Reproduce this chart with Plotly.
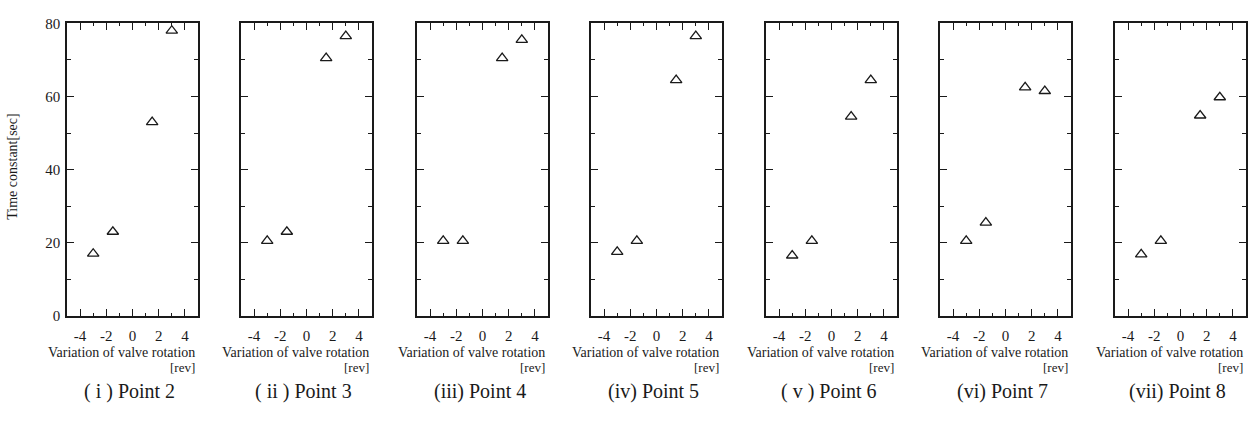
import plotly.graph_objects as go

# Valve rotation offsets shared by every measuring point [rev]
rotation = [-3, -1.5, 1.5, 3]

# Time constants [sec] measured at each point
point_names = ["( i ) Point 2", "( ii ) Point 3", "(iii) Point 4", "(iv) Point 5",
               "( v ) Point 6", "(vi) Point 7", "(vii) Point 8"]
point2 = [17, 23, 53, 78]
point3 = [20.5, 23, 70.5, 76.5]
point4 = [20.5, 20.5, 70.5, 75.5]
point5 = [17.5, 20.5, 64.5, 76.5]
point6 = [16.5, 20.5, 54.5, 64.5]
point7 = [20.5, 25.5, 62.5, 61.5]
point8 = [16.8, 20.5, 54.8, 59.8]
series = [point2, point3, point4, point5, point6, point7, point8]

x_ticks = [-4, -2, 0, 2, 4]
x_labels = ["-4", "-2", "0", "2", "4"]
y_ticks = [0, 20, 40, 60, 80]

W, H = 1258, 421
FONT = "Liberation Serif, Times New Roman, serif"
INK = "#1a1a1a"

# panel boxes in pixels
lefts = [67, 241, 417, 591, 766, 940, 1115]
box_w = 131
top_px, bottom_px = 16, 320

fig = go.Figure()
annotations = []

for i, (vals, name) in enumerate(zip(series, point_names)):
    n = "" if i == 0 else str(i + 1)
    x0 = lefts[i] / W
    x1 = (lefts[i] + box_w) / W
    fig.add_trace(go.Scatter(
        x=rotation, y=vals, mode="markers",
        marker=dict(symbol="triangle-up-open", size=10, color=INK,
                    line=dict(width=1.3, color=INK)),
        xaxis="x" + n, yaxis="y" + n, showlegend=False, cliponaxis=False))

    axis_common = dict(showline=True, linecolor=INK, linewidth=1.5, mirror="allticks",
                       ticks="inside", tickcolor=INK, tickwidth=1.2, showgrid=False,
                       zeroline=False, fixedrange=True,
                       tickfont=dict(family=FONT, size=15, color=INK))
    fig.update_layout(**{
        "xaxis" + n: dict(axis_common, domain=[x0, x1], range=[-5, 5],
                          tickvals=x_ticks, ticktext=x_labels, ticklen=7,
                          ticklabelstandoff=5, anchor="y" + n,
                          minor=dict(ticks="inside", dtick=1, tick0=0, ticklen=3,
                                     tickcolor=INK, tickwidth=1)),
        "yaxis" + n: dict(axis_common, domain=[1 - bottom_px / H, 1 - top_px / H],
                          range=[0, 80], tickvals=y_ticks, ticklen=7,
                          ticklabelstandoff=2,
                          anchor="x" + n, showticklabels=(i == 0),
                          minor=dict(ticks="inside", dtick=10, tick0=0, ticklen=4,
                                     tickcolor=INK, tickwidth=1)),
    })

    right = lefts[i] + box_w - 1
    annotations.append(dict(text="Variation of valve rotation", x=right / W, y=1 - 358 / H,
                            xref="paper", yref="paper", xanchor="right", yanchor="middle",
                            showarrow=False, font=dict(family=FONT, size=14, color=INK)))
    annotations.append(dict(text="[rev]", x=right / W, y=1 - 374 / H,
                            xref="paper", yref="paper", xanchor="right", yanchor="middle",
                            showarrow=False, font=dict(family=FONT, size=13, color=INK)))
    annotations.append(dict(text=name, x=(lefts[i] + box_w / 2 - 3) / W, y=1 - 399 / H,
                            xref="paper", yref="paper", xanchor="center", yanchor="middle",
                            showarrow=False, font=dict(family=FONT, size=20, color=INK)))

annotations.append(dict(text="Time constant[sec]", x=13 / W, y=1 - 165 / H,
                        xref="paper", yref="paper", xanchor="center", yanchor="middle",
                        textangle=-90, showarrow=False,
                        font=dict(family=FONT, size=14, color=INK)))

fig.update_layout(width=W, height=H, margin=dict(l=0, r=0, t=0, b=0),
                  paper_bgcolor="white", plot_bgcolor="white",
                  annotations=annotations, showlegend=False)

fig.write_html("out.html")
